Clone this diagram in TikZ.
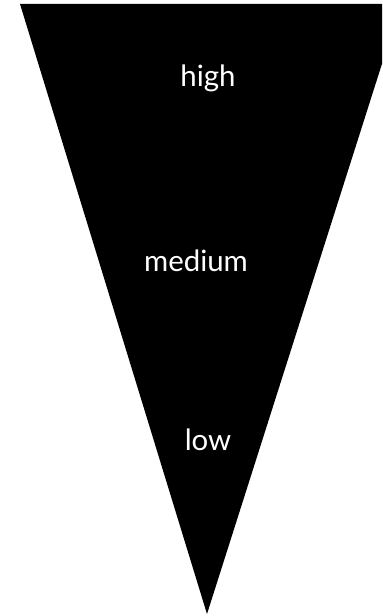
\documentclass[tikz,border=0pt]{standalone}
\usepackage{fontspec}
\setmainfont{Lato}
\usetikzlibrary{positioning}

\begin{document}
\begin{tikzpicture}[x=1bp,y=-1bp,
    level/.style={text=white,font=\fontsize{29.5}{33}\selectfont,inner sep=0pt}]
        \useasboundingbox (0,0) rectangle (382,616);
        \clip (0,0) rectangle (382,616);

        \coordinate (TL) at (20,4);
        \coordinate (TR) at (401,4);
        \coordinate (B) at (207,614);

        \fill[black] (TL)--(TR)--(B)--cycle;

        \node[level] (high) at (208,78) {high};
        \node[level] (medium) at (196,261) {medium};
        \node[level] (low) at (208,440) {low};
    \end{tikzpicture}
\end{document}
